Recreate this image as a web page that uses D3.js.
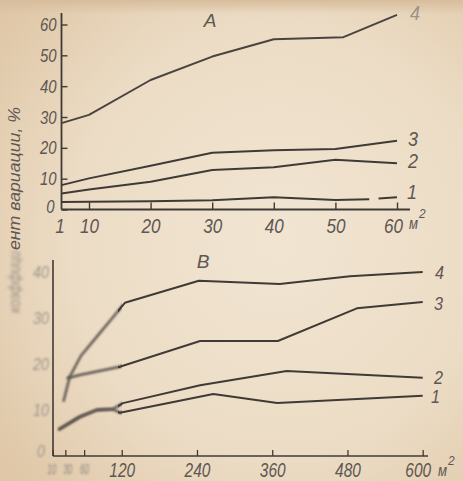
<!DOCTYPE html>
<html><head><meta charset="utf-8">
<script src="https://cdn.jsdelivr.net/npm/d3@7"></script>
<style>
html,body{margin:0;padding:0;background:#ead9c0;}
svg{display:block;}
text{font-family:"Liberation Sans",sans-serif;font-style:italic;}
</style></head>
<body>
<script>
// ---------- Panel A (area 1–60 m²) ----------
const aTicks = [1, 10, 20, 30, 40, 50, 60];
const aYTicks = [0, 10, 20, 30, 40, 50, 60];
const a4X = [1, 10, 20, 30, 40, 51.3, 60];
const a4 = [28, 30.7, 42, 49.6, 55.2, 55.9, 63.1];
const a3X = [1, 10, 20, 30, 40, 50, 60];
const a3 = [7.9, 10.1, 14.2, 18.4, 19.2, 19.6, 22.3];
const a2X = [1, 10, 20, 30, 40, 50, 60];
const a2 = [5.2, 6.5, 9.0, 12.8, 13.7, 16.1, 15.0];
const a1X = [1, 10, 20, 30, 40, 50, 55.5, 56.3, 57, 60];
const a1 = [2.4, 2.5, 2.7, 3.0, 4.0, 3.1, 3.3, null, 3.6, 4.0];
// ---------- Panel B (area 10–600 m²) ----------
const bTicks = [10, 30, 60, 120, 240, 360, 480, 600];
const bYTicks = [0, 10, 20, 30, 40];
const b4X = [27, 37, 55, 80, 105, 125, 243, 372, 484, 600];
const b4 = [11.8, 17.2, 21.8, 25.9, 30.0, 33.3, 38.1, 37.4, 39.1, 40];
const b3X = [32, 53, 117, 245, 369, 495, 600];
const b3 = [16.9, 17.6, 19.4, 25.0, 25.0, 32.1, 33.5];
const b2X = [19, 53, 80, 106, 122, 245, 383, 600];
const b2 = [5.7, 8.5, 10.0, 10.2, 11.5, 15.4, 18.5, 17.0];
const b1X = [19, 53, 80, 106, 117, 266, 368, 600];
const b1 = [5.7, 8.5, 10.0, 10.2, 9.4, 13.5, 11.5, 13.1];
const seriesNames = ["1", "2", "3", "4"];
const yTitleA = "коэффици";
const yTitleB = "ент вариации, %";

const W = 463, H = 481;
const svg = d3.select("body").append("svg").attr("width", W).attr("height", H);
const defs = svg.append("defs");
const rg = defs.append("radialGradient").attr("id", "paper").attr("cx", "0.6").attr("cy", "0.5").attr("r", "0.75");
rg.append("stop").attr("offset", "0").attr("stop-color", "#f1e5d2");
rg.append("stop").attr("offset", "0.6").attr("stop-color", "#ecdcc5");
rg.append("stop").attr("offset", "1").attr("stop-color", "#dfc7a7");
const tg = defs.append("linearGradient").attr("id", "topband").attr("x1", 0).attr("y1", 0).attr("x2", 0).attr("y2", 1);
tg.append("stop").attr("offset", "0").attr("stop-color", "#d7bd9c").attr("stop-opacity", 1);
tg.append("stop").attr("offset", "1").attr("stop-color", "#d7bd9c").attr("stop-opacity", 0);
const blur = defs.append("filter").attr("id", "blur").attr("x", "-20%").attr("y", "-20%").attr("width", "140%").attr("height", "140%");
blur.append("feGaussianBlur").attr("stdDeviation", 0.9);
const blur2 = defs.append("filter").attr("id", "blur2").attr("x", "-20%").attr("y", "-20%").attr("width", "140%").attr("height", "140%");
blur2.append("feGaussianBlur").attr("stdDeviation", 1.4);
defs.append("clipPath").attr("id", "clipL").append("rect").attr("x", 0).attr("y", 0).attr("width", 122).attr("height", H);
defs.append("clipPath").attr("id", "clipR").append("rect").attr("x", 118).attr("y", 0).attr("width", W).attr("height", H);

svg.append("rect").attr("width", W).attr("height", H).attr("fill", "url(#paper)");
svg.append("rect").attr("width", W).attr("height", 14).attr("fill", "url(#topband)");

const ink = "#403a36";
const txt = "#5e5752";
const narrow = (sel, perChar) => sel.attr("textLength", function () { return this.textContent.length * perChar; })
  .attr("lengthAdjust", "spacingAndGlyphs");

// scales
const xA = d3.scaleLinear().domain([1, 10, 60]).range([61.5, 89, 397]);
const yA = d3.scaleLinear().domain([0, 60]).range([209.5, 24.5]);
const xB = d3.scaleLinear().domain([0, 600]).range([46.5, 422.7]);
const yB = d3.scaleLinear().domain([0, 40]).range([456, 272]);

// ---- Panel A axes ----
const gA = svg.append("g");
gA.append("line").attr("x1", xA(1)).attr("x2", xA(1)).attr("y1", 13).attr("y2", yA(0)).attr("stroke", ink).attr("stroke-width", 1.8);
const axA = gA.append("g").attr("transform", `translate(0,${yA(0)})`)
  .call(d3.axisBottom(xA).tickValues(aTicks).tickSizeInner(-7).tickSizeOuter(0).tickPadding(9).tickFormat(d3.format("d")));
axA.select(".domain").attr("d", `M${xA(1)},0H410`).attr("stroke", ink).attr("stroke-width", 1.8);
axA.selectAll(".tick line").attr("stroke", ink).attr("stroke-width", 1.4);
axA.selectAll(".tick text").attr("fill", txt).attr("font-size", 21).attr("font-family", null).call(narrow, 9.5);
axA.selectAll(".tick").filter(d => d === 1).select("line").remove();
axA.selectAll(".tick").filter(d => d === 1).select("text").attr("dx", -2);
axA.selectAll(".tick").filter(d => d === 60).select("text").attr("dx", -4);
const ayA = gA.append("g").attr("transform", `translate(${xA(1)},0)`)
  .call(d3.axisRight(yA).tickValues(aYTicks).tickSizeInner(6).tickSizeOuter(0).tickFormat(d3.format("d")));
ayA.select(".domain").remove();
ayA.selectAll(".tick line").attr("stroke", ink).attr("stroke-width", 1.4);
ayA.selectAll(".tick text").attr("x", -5).attr("text-anchor", "end").attr("fill", txt).attr("font-size", 19).attr("font-family", null).call(narrow, 8.3);
ayA.selectAll(".tick").filter(d => d === 0).select("text").attr("x", -7).attr("dy", "0.15em");
// m² unit
gA.append("text").attr("x", 409).attr("y", 229).attr("fill", txt).attr("font-size", 16).text("м").call(narrow, 9);
gA.append("text").attr("x", 419).attr("y", 218).attr("fill", txt).attr("font-size", 12).text("2");
gA.append("text").attr("x", 210).attr("y", 27).attr("text-anchor", "middle").attr("fill", txt).attr("font-size", 19).text("А");

const lineA = d3.line().defined(d => d[1] != null).x(d => xA(d[0])).y(d => yA(d[1]));
const seriesA = [[a1X, a1], [a2X, a2], [a3X, a3], [a4X, a4]];
seriesA.forEach(([xs, vs], i) => {
  const pts = xs.map((x, j) => [x, vs[j]]);
  gA.append("path").attr("d", lineA(pts)).attr("fill", "none")
    .attr("stroke", i === 3 ? "#4a4440" : ink).attr("stroke-width", 2).attr("stroke-linejoin", "round");
});
const labA = [[407, 199], [408, 168], [408, 146], [410, 20]];
seriesNames.forEach((n, i) => {
  gA.append("text").attr("x", labA[i][0]).attr("y", labA[i][1]).attr("fill", i === 3 ? "#9c928a" : txt)
    .attr("font-size", 20).text(n).call(narrow, 10);
});

// ---- Panel B axes ----
const gB = svg.append("g");
gB.append("line").attr("x1", 53).attr("x2", 53).attr("y1", 260).attr("y2", yB(0)).attr("stroke", ink).attr("stroke-width", 1.6);
const axB = gB.append("g").attr("transform", `translate(0,${yB(0)})`)
  .call(d3.axisBottom(xB).tickValues(bTicks).tickSizeInner(-6).tickSizeOuter(0).tickPadding(7).tickFormat(d3.format("d")));
axB.select(".domain").attr("d", `M53,0H428`).attr("stroke", ink).attr("stroke-width", 1.6);
axB.selectAll(".tick line").attr("stroke", ink).attr("stroke-width", 1.3);
axB.selectAll(".tick text").attr("fill", txt).attr("font-size", 20).attr("font-family", null).call(narrow, 8.6);
axB.selectAll(".tick").filter(d => d <= 60).select("text").attr("font-size", 15).attr("fill", "#8d847c")
  .attr("filter", "url(#blur)").call(narrow, 4.5);
axB.selectAll(".tick").filter(d => d === 10).select("text").attr("dx", -1.5);
axB.selectAll(".tick").filter(d => d === 30).select("text").attr("dx", 2);
axB.selectAll(".tick").filter(d => d === 600).select("text").attr("dx", -5);
const ayB = gB.append("g").attr("transform", `translate(53,0)`)
  .call(d3.axisLeft(yB).tickValues(bYTicks).tickSize(0).tickPadding(4).tickFormat(d3.format("d")));
ayB.select(".domain").remove();
ayB.selectAll(".tick text").attr("fill", "#a0968d").attr("font-size", 17).attr("font-family", null)
  .attr("filter", "url(#blur)").call(narrow, 8);
ayB.selectAll(".tick").filter(d => d === 0).select("text").attr("dy", "0.05em").attr("x", -8);
gB.append("text").attr("x", 438).attr("y", 476).attr("fill", txt).attr("font-size", 16).text("м").call(narrow, 9);
gB.append("text").attr("x", 448).attr("y", 465).attr("fill", txt).attr("font-size", 12).text("2");
gB.append("text").attr("x", 203).attr("y", 268).attr("text-anchor", "middle").attr("fill", txt).attr("font-size", 19).text("В");

const lineB = d3.line().x(d => xB(d[0])).y(d => yB(d[1]));
const seriesB = [[b1X, b1], [b2X, b2], [b3X, b3], [b4X, b4]];
seriesB.forEach(([xs, vs], i) => {
  const d = lineB(xs.map((x, j) => [x, vs[j]]));
  gB.append("g").attr("clip-path", "url(#clipL)").append("path").attr("d", d).attr("fill", "none")
    .attr("stroke", "#5d5550").attr("stroke-width", 2.4).attr("filter", "url(#blur)").attr("stroke-linejoin", "round");
  gB.append("g").attr("clip-path", "url(#clipR)").append("path").attr("d", d).attr("fill", "none")
    .attr("stroke", ink).attr("stroke-width", 2).attr("stroke-linejoin", "round");
});
const labB = [[431, 403], [434, 384], [434, 310], [435, 279]];
seriesNames.forEach((n, i) => {
  gB.append("text").attr("x", labB[i][0]).attr("y", labB[i][1]).attr("fill", txt).attr("font-size", 18).text(n).call(narrow, 9);
});

// ---- Y axis title (rotated, lower part faded) ----
svg.append("text").attr("transform", "translate(20,313) rotate(-90)").attr("fill", "#9a9088")
  .attr("font-size", 16).attr("textLength", 62).attr("lengthAdjust", "spacingAndGlyphs")
  .attr("filter", "url(#blur2)").text(yTitleA);
svg.append("text").attr("transform", "translate(20,250) rotate(-90)").attr("fill", txt)
  .attr("font-size", 16).attr("textLength", 143).attr("lengthAdjust", "spacingAndGlyphs")
  .text(yTitleB);
</script>
</body></html>
